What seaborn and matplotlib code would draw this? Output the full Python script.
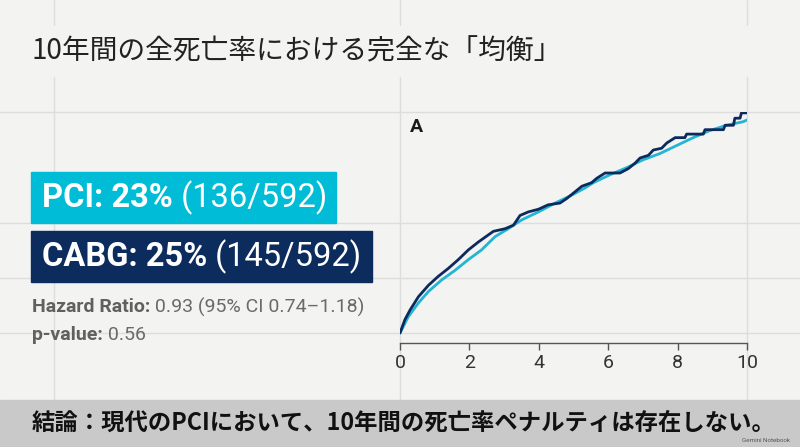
import numpy as np
import pandas as pd
import matplotlib
matplotlib.use("Agg")
import matplotlib.pyplot as plt
import seaborn as sns
from matplotlib.patches import Rectangle

# values (years, cumulative mortality %)
pci_years = [0, 0.24, 0.53, 0.82, 1.20, 1.59, 1.97, 2.35, 2.74, 3.12, 3.51, 3.99, 4.47,
             4.95, 5.33, 5.57, 6.05, 6.53, 7.01, 7.49, 7.97, 8.45, 8.93, 9.41, 9.89, 10.0]
pci_rate = [0, 1.85, 3.4, 4.7, 6.0, 7.1, 8.3, 9.4, 10.9, 11.8, 12.8, 13.7, 14.7,
            15.6, 16.4, 17.0, 17.9, 18.7, 19.6, 20.3, 21.2, 22.1, 22.9, 23.5, 23.9, 24.1]
cabg_years = [0, 0.14, 0.29, 0.53, 0.82, 1.10, 1.39, 1.68, 1.97, 2.26, 2.69, 3.03, 3.27,
              3.46, 3.70, 3.99, 4.27, 4.61, 4.80, 4.99, 5.24, 5.52, 5.67, 5.91, 6.34,
              6.58, 6.77, 6.92, 7.16, 7.30, 7.54, 7.69, 7.93, 8.21, 8.26, 8.74, 8.79,
              9.32, 9.37, 9.61, 9.65, 9.80, 9.84, 10.0]
cabg_rate = [0, 1.5, 2.6, 4.1, 5.4, 6.4, 7.3, 8.3, 9.4, 10.3, 11.5, 11.8, 12.2,
             13.3, 13.7, 14.0, 14.5, 14.7, 15.2, 15.8, 16.6, 17.0, 17.5, 18.1, 18.1,
             18.6, 19.2, 19.8, 20.1, 20.7, 20.9, 21.5, 22.1, 22.1, 22.5, 22.5, 23.0,
             23.0, 23.5, 23.5, 24.3, 24.3, 24.9, 24.9]
x_ticks = [0, 2, 4, 6, 8, 10]

title = "10年間の全死亡率における完全な「均衡」"
pci_bold, pci_rest = "PCI: 23%", " (136/592)"
cabg_bold, cabg_rest = "CABG: 25%", " (145/592)"
hr_bold, hr_rest = "Hazard Ratio:", " 0.93 (95% CI 0.74\u20131.18)"
p_bold, p_rest = "p-value:", " 0.56"
conclusion = "結論：現代のPCIにおいて、10年間の死亡率ペナルティは存在しない。"

BG = "#f3f3f2"
CYAN = "#00bcd6"
NAVY = "#0c2c5e"
CYAN_LINE = "#22b5d4"
NAVY_LINE = "#0d2a5c"
GRID = "#dddddd"

sns.set_theme(style="white")
plt.rcParams["font.family"] = ["Roboto", "Noto Sans CJK JP", "DejaVu Sans"]

fig = plt.figure(figsize=(8, 4.47), dpi=100, facecolor=BG)

# background layer in pixel coordinates
bg = fig.add_axes([0, 0, 1, 1])
bg.set_xlim(0, 800)
bg.set_ylim(447, 0)
bg.axis("off")
bg.set_facecolor(BG)

for yy in [112, 223, 278, 333]:
    bg.plot([0, 800], [yy, yy], color=GRID, lw=1, zorder=0)
for xx in [54, 400, 747]:
    bg.plot([xx, xx], [0, 25], color=GRID, lw=1, zorder=0)
    bg.plot([xx, xx], [77, 400], color=GRID, lw=1, zorder=0)

bg.text(31, 51, title, fontsize=20, color="#222222", va="center", ha="left",
        family=["Noto Sans CJK JP", "DejaVu Sans"])

renderer = fig.canvas.get_renderer()


def two_part(x, y, bold, rest, size, color, bold_color=None):
    t = bg.text(x, y, bold, fontsize=size, fontweight="bold", color=bold_color or color,
                va="center", ha="left", family="Roboto", zorder=3)
    w = t.get_window_extent(renderer=renderer).width
    bg.text(x + w, y, rest, fontsize=size, color=color, va="center", ha="left",
            family="Roboto", zorder=3)


bg.add_patch(Rectangle((31, 172), 305, 51, color=CYAN, zorder=2))
bg.add_patch(Rectangle((31, 231), 341, 51, color=NAVY, zorder=2))
two_part(42, 198, pci_bold, pci_rest, 23.5, "white")
two_part(42, 257, cabg_bold, cabg_rest, 23.5, "white")
two_part(32, 307, hr_bold, hr_rest, 14, "#6a6a6a", "#606060")
two_part(32, 335, p_bold, p_rest, 14, "#6a6a6a", "#606060")

# conclusion banner
bg.add_patch(Rectangle((0, 400), 800, 47, color="#c9c9c9", zorder=2))
bg.text(32, 423, conclusion, fontsize=16.8, fontweight="bold", color="#111111",
        va="center", ha="left", family=["Noto Sans CJK JP", "DejaVu Sans"], zorder=3)
bg.text(790, 441, "Gemini Notebook", fontsize=4.5, color="#555555", ha="right",
        va="center", zorder=3)

# Kaplan-Meier style chart
df = pd.concat([
    pd.DataFrame({"year": pci_years, "rate": pci_rate, "group": "PCI"}),
    pd.DataFrame({"year": cabg_years, "rate": cabg_rate, "group": "CABG"}),
])

ax = fig.add_axes([400 / 800, (447 - 343) / 447, 347 / 800, 231 / 447])
ax.patch.set_alpha(0)
sns.lineplot(data=df, x="year", y="rate", hue="group", hue_order=["PCI", "CABG"],
             palette=[CYAN_LINE, NAVY_LINE], estimator=None, sort=False,
             linewidth=2.0, legend=False, ax=ax)
ax.set_xlim(0, 10)
ax.set_ylim(-1.13, 25)
ax.set_xticks(x_ticks)
ax.set_yticks([])
ax.set_xlabel("")
ax.set_ylabel("")
for s in ["top", "right", "left"]:
    ax.spines[s].set_visible(False)
ax.spines["bottom"].set_color("#555555")
ax.spines["bottom"].set_linewidth(1)
ax.tick_params(axis="x", direction="out", length=5, width=1, color="#555555",
               labelsize=14, labelcolor="#333333", pad=3, bottom=True)
ax.text(0.03, 0.935, "A", transform=ax.transAxes, fontsize=14, fontweight="bold",
        color="#1a1a1a", ha="left", va="center")

fig.savefig("out.png", dpi=100, facecolor=BG)
